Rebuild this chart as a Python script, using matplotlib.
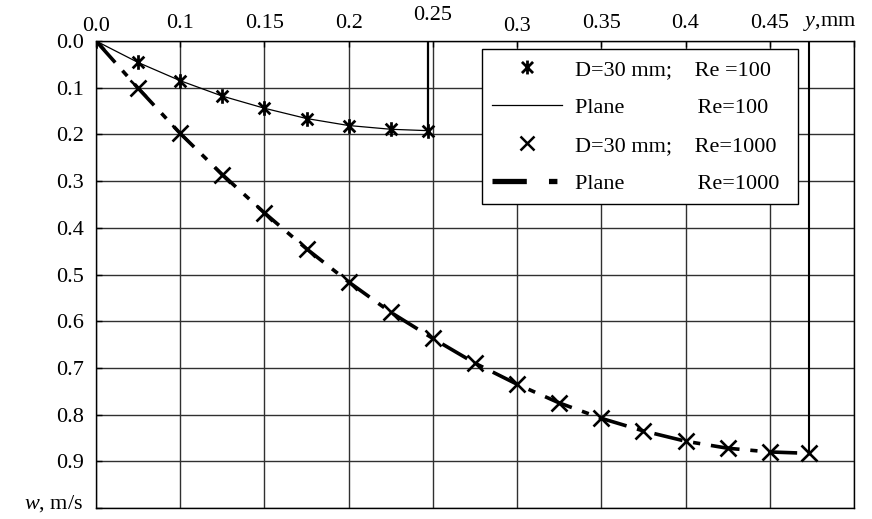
import numpy as np
import matplotlib
matplotlib.use("Agg")
import matplotlib.pyplot as plt
from matplotlib.path import Path
from matplotlib.lines import Line2D
from matplotlib.transforms import ScaledTranslation

plt.rcParams['font.family'] = ['Liberation Serif', 'DejaVu Serif']
plt.rcParams['mathtext.fontset'] = 'custom'
plt.rcParams['mathtext.rm'] = 'Liberation Serif'
plt.rcParams['mathtext.it'] = 'Liberation Serif:italic'

# ---- data ----
x_ticks = [0.0, 0.05, 0.10, 0.15, 0.20, 0.25, 0.30, 0.35, 0.40, 0.45]
x_tick_labels = ["0.0", "0.1", "0.15", "0.2", "0.25", "0.3", "0.35", "0.4", "0.45", "$y$,mm"]
y_ticks = [0.0, 0.1, 0.2, 0.3, 0.4, 0.5, 0.6, 0.7, 0.8, 0.9, 1.0]
y_tick_labels = ["0.0", "0.1", "0.2", "0.3", "0.4", "0.5", "0.6", "0.7", "0.8", "0.9", "$w$, m/s"]

# D=30 mm, Re=100 (markers) and plane Re=100 (line)
y_re100 = [0.0, 0.025, 0.05, 0.075, 0.10, 0.125, 0.15, 0.175, 0.197]
w_d30_re100 = [0.0, 0.046, 0.085, 0.118, 0.144, 0.166, 0.181, 0.189, 0.192]
w_plane_re100 = [0.0, 0.046, 0.085, 0.118, 0.144, 0.166, 0.181, 0.189, 0.192]

# D=30 mm, Re=1000 (markers) and plane Re=1000 (dashed line)
y_re1000 = [0.0, 0.025, 0.05, 0.075, 0.10, 0.125, 0.15, 0.175, 0.20, 0.225,
            0.25, 0.275, 0.30, 0.325, 0.35, 0.375, 0.40, 0.4235]
w_d30_re1000 = [0.0, 0.101, 0.198, 0.286, 0.368, 0.445, 0.516, 0.581, 0.637, 0.690,
                0.735, 0.775, 0.808, 0.835, 0.857, 0.872, 0.880, 0.883]
w_plane_re1000 = [0.0, 0.101, 0.198, 0.286, 0.368, 0.445, 0.516, 0.581, 0.637, 0.690,
                  0.735, 0.775, 0.808, 0.835, 0.857, 0.872, 0.880, 0.883]

legend_labels = ["D=30 mm;    Re =100",
                 "Plane             Re=100",
                 "D=30 mm;    Re=1000  ",
                 "Plane             Re=1000"]

# asterisk marker (x with vertical bar)
ast = Path([(-1, -1), (1, 1), (-1, 1), (1, -1), (0, -1.25), (0, 1.25)],
           [Path.MOVETO, Path.LINETO, Path.MOVETO, Path.LINETO, Path.MOVETO, Path.LINETO])

FS = 16

fig = plt.figure(figsize=(8.72, 5.19), dpi=100)
ax = fig.add_axes([96/872, 1 - 508/519, 758/872, 467/519])

ax.set_xlim(0, 0.45)
ax.set_ylim(1.0, 0.0)

ax.grid(True, color='#303030', lw=1.0)
ax.set_axisbelow(True)

# lines
ax.plot(y_re100, w_plane_re100, color='black', lw=0.9, zorder=3)
ax.plot([y_re100[-1], y_re100[-1]], [w_plane_re100[-1], 0], color='black', lw=1.6, zorder=3)
ax.plot(y_re1000, w_plane_re1000, color='black', lw=2.6, zorder=3,
        dashes=(8, 3, 2, 3), solid_capstyle='butt', dash_capstyle='butt')
ax.plot([y_re1000[-1], y_re1000[-1]], [w_plane_re1000[-1], 0], color='black', lw=1.5, zorder=3)

# markers
ax.plot(y_re100, w_d30_re100, ls='none', marker=ast, ms=10.5, mew=2.0,
        mec='black', mfc='none', zorder=4)
ax.plot(y_re1000, w_d30_re1000, ls='none', marker='x', ms=11.5, mew=1.9,
        color='black', zorder=4)

# ticks
ax.xaxis.tick_top()
ax.set_xticks(x_ticks)
ax.set_xticklabels(x_tick_labels, fontsize=FS)
ax.set_yticks(y_ticks)
ax.set_yticklabels(y_tick_labels, fontsize=FS)
ax.tick_params(axis='x', direction='in', length=4, width=1, pad=6, colors='black')
ax.tick_params(axis='y', direction='in', length=4, width=1, pad=9, colors='black')

# individual label offsets (pixels: dx, dy)
x_off = [(0, -3), (0, 0), (0, 0), (0, 0), (0, 8), (0, -3), (0, 0), (0, 0), (0, 0), (-24, 0)]
for lbl, (dx, dy) in zip(ax.get_xticklabels(), x_off):
    lbl.set_transform(lbl.get_transform() + ScaledTranslation(dx/100, dy/100, fig.dpi_scale_trans))
ylbls = ax.get_yticklabels()
ylbls[-1].set_transform(ylbls[-1].get_transform() + ScaledTranslation(0, 7/100, fig.dpi_scale_trans))

for s in ax.spines.values():
    s.set_color('black')
    s.set_linewidth(1.0)

# legend
handles = [
    Line2D([], [], ls='none', marker=ast, ms=10, mew=2.0, mec='black', mfc='none'),
    Line2D([], [], color='black', lw=0.9),
    Line2D([], [], ls='none', marker='x', ms=9.5, mew=1.8, color='black'),
    Line2D([], [], color='black', lw=3.8, dashes=(6.5, 4.2, 1.6, 4.2)),
]
leg = ax.legend(handles, legend_labels, loc='upper left', bbox_to_anchor=(0.509, 0.983),
                fontsize=FS, frameon=True, fancybox=False, framealpha=1,
                edgecolor='black', handlelength=3.15, handletextpad=0.6,
                borderpad=0.46, labelspacing=0.79, borderaxespad=0)
leg.get_frame().set_linewidth(1.0)

fig.savefig("out.png", dpi=100)
